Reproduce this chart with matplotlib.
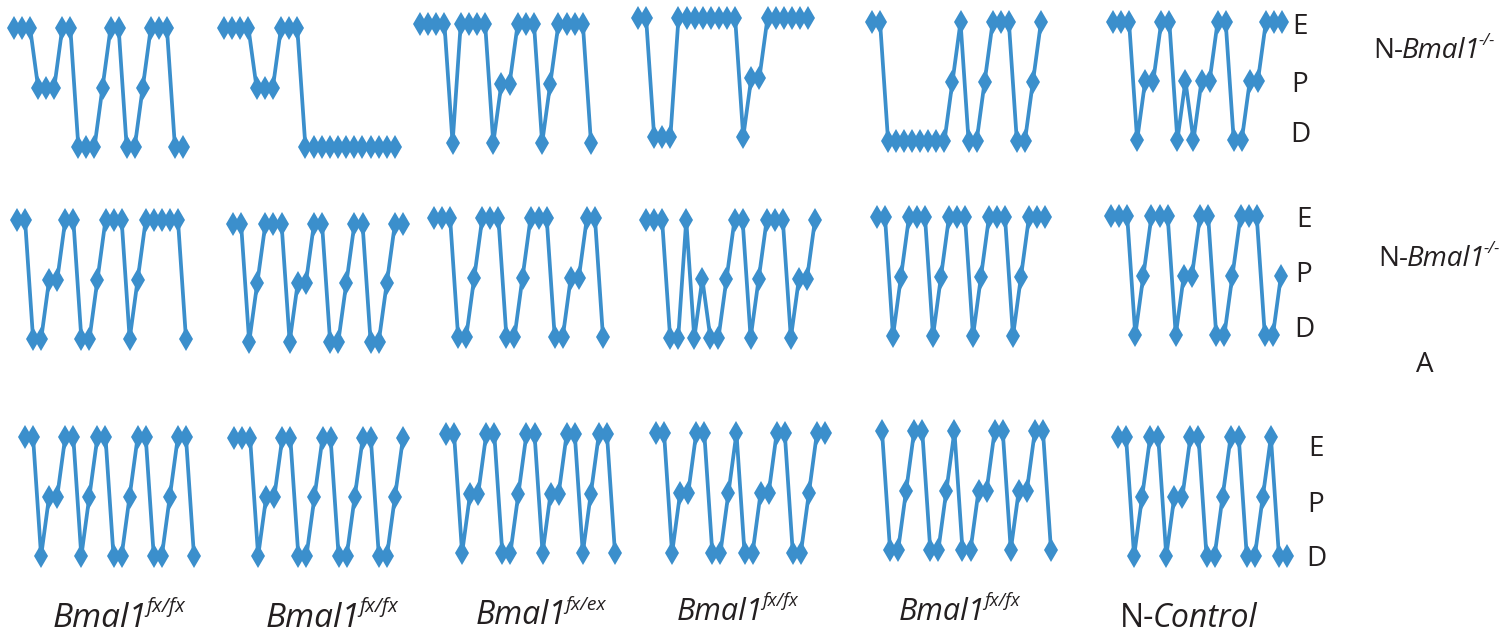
import matplotlib
matplotlib.use("Agg")
import matplotlib.pyplot as plt

# ---------------- data (E = 2, P = 1, D = 0) ----------------
state_levels = {"E": 2, "P": 1, "D": 0}
level_labels = ["D", "P", "E"]

row1_states = [
    "EEEPPPEEDDDPEEDDPEEEDD",
    "EEEEPPPEEEDDDDDDDDDDDD",
    "EEEEDEEEEDPPEEEDPEEEED",
    "EEDDDEEEEEEEEDPPEEEEEE",
    "EEDDDDDDDDPEDDPEEEDDPE",
    "EEEDPPEEDPDPPEEDDPPEEE",
]
row2_states = [
    "EEDDPPEEDDPEEEDPEEEEED",
    "EEDPEEEDPPEEDDPEEDDPEE",
    "EEEDDPEEEDDPEEEDDPPEED",
    "EEEDDEDPDDPEEDPEEEDPPE",
    "EEDPEEEDPEEEDPEEEDPEEE",
    "EEEDPEEEDPPEEDDPEEEDDP",
]
row3_states = [
    "EEDPPEEDPEEDDPEEDDPEED",
    "EEEDPPEEDDPEEDDPEEDDPE",
    "EEDPPEEDDPEEDPPEEDPEED",
    "EEDPPEEDDPEDDPPEEDDPEE",
    "EDDPEEDDPEDDPPEEDPPEED",
    "EEDPEEDPPEEDDPEEDDPEDD",
]

column_genotypes = ["fx/fx", "fx/fx", "fx/ex", "fx/fx", "fx/fx"]
row_labels = ["N-Bmal1", "N-Bmal1"]
row_label_sup = "-/-"
panel_letter = "A"
control_label = ("N-", "Control")

# ---------------- layout (pixels) ----------------
W, H = 1510, 633
row_x0 = [[14, 224, 420, 638, 872, 1113],
          [17, 233, 434, 646, 877, 1111],
          [25, 234, 446, 656, 882, 1118]]
row_x1 = [[183, 395, 591, 808, 1041, 1282],
          [186, 403, 603, 815, 1045, 1281],
          [194, 403, 615, 825, 1051, 1287]]
row_yE = [[28, 28, 24, 18, 22, 22],
          [220, 224, 218, 220, 217, 216],
          [437, 438, 434, 433, 431, 437]]
row_yD = [[147, 147, 143, 137, 141, 140],
          [339, 342, 337, 338, 336, 335],
          [556, 556, 553, 553, 550, 556]]

LINE_COLOR = "#3b8fcc"
TEXT_COLOR = "#231f20"
FONT = ["Open Sans", "DejaVu Sans"]

fig = plt.figure(figsize=(W / 100, H / 100), dpi=100)
fig.patch.set_facecolor("white")
renderer = fig.canvas.get_renderer()

all_rows = [row1_states, row2_states, row3_states]
for r, row in enumerate(all_rows):
    for c, seq in enumerate(row):
        x0, x1 = row_x0[r][c], row_x1[r][c]
        yE, yD = row_yE[r][c], row_yD[r][c]
        ax = fig.add_axes([x0 / W, 1 - yD / H, (x1 - x0) / W, (yD - yE) / H])
        vals = [state_levels[s] for s in seq]
        ax.plot(range(len(vals)), vals, color=LINE_COLOR, lw=2.7,
                marker="d", markersize=12, markeredgewidth=0,
                solid_joinstyle="miter", clip_on=False)
        ax.set_xlim(0, len(vals) - 1)
        ax.set_ylim(0, 2)
        ax.axis("off")


def put(x, y, s, size, style="normal", va="baseline", ha="left"):
    return fig.text(x / W, 1 - y / H, s, fontsize=size, fontstyle=style,
                    family=FONT, va=va, ha=ha, color=TEXT_COLOR)


def rich(x, ybase, parts, size, center=False):
    texts = []
    cur = x
    for s, st, sup in parts:
        sz = size * 0.6 if sup else size
        yy = ybase - (size * 1.389 * 0.45 if sup else 0)
        t = put(cur, yy, s, sz, st)
        bb = t.get_window_extent(renderer)
        cur = bb.x1 - (1.5 if not sup else 0)
        texts.append(t)
    if center:
        shift = (cur - x) / 2
        for t in texts:
            px, py = t.get_position()
            t.set_position((px - shift / W, py))
    return texts


# E / P / D level labels on the right of each row
epd_x = [1300, 1304, 1316]
epd_y = [[27, 85, 135], [220, 275, 330], [449, 505, 559]]
for r in range(3):
    for lab, yy in zip(["E", "P", "D"], epd_y[r]):
        put(epd_x[r], yy, lab, 20, va="center", ha="center")

# Row labels
row_label_pos = [(1373, 58), (1378, 266)]
for (lx, ly), lab in zip(row_label_pos, row_labels):
    pre, ital = lab.split("-", 1)
    rich(lx, ly, [(pre + "-", "normal", False), (ital, "italic", False),
                  (row_label_sup, "italic", True)], 20)
put(1425, 372, panel_letter, 20, ha="center")

# Column labels at the bottom
col_centers = [119, 332, 541, 737, 959, 1188]
col_base = [627, 627, 624, 620, 620, 627]
col_size = [24, 24, 23, 22, 22, 23]
for i, g in enumerate(column_genotypes):
    rich(col_centers[i], col_base[i],
         [("Bmal1", "italic", False), (g, "italic", True)], col_size[i], center=True)
rich(col_centers[5], col_base[5],
     [(control_label[0], "normal", False), (control_label[1], "italic", False)],
     col_size[5], center=True)

fig.savefig("out.png", dpi=100, facecolor="white")
